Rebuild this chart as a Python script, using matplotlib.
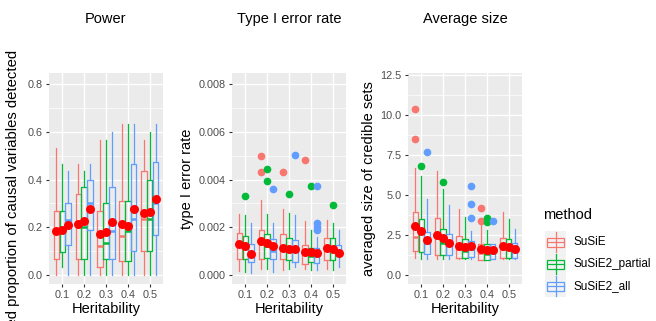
import matplotlib
matplotlib.use("Agg")
import matplotlib.pyplot as plt
from matplotlib.patches import Rectangle

plt.rcParams['font.family'] = ['Liberation Sans', 'DejaVu Sans']

heritability = ["0.1", "0.2", "0.3", "0.4", "0.5"]
methods = ["SuSiE", "SuSiE2_partial", "SuSiE2_all"]
colors = ["#F8766D", "#00BA38", "#619CFF"]

# ---------- Power ----------
pow_whislo = {"SuSiE": [0.0, 0.0, 0.0, 0.0, 0.0],
              "SuSiE2_partial": [0.035, 0.0, 0.0, 0.0, 0.0],
              "SuSiE2_all": [0.0, 0.0, 0.0, 0.0, 0.0]}
pow_q1 = {"SuSiE": [0.067, 0.067, 0.035, 0.058, 0.10],
          "SuSiE2_partial": [0.095, 0.067, 0.067, 0.058, 0.10],
          "SuSiE2_all": [0.125, 0.19, 0.067, 0.10, 0.167]}
pow_med = {"SuSiE": [0.18, 0.20, 0.12, 0.165, 0.235],
           "SuSiE2_partial": [0.19, 0.20, 0.135, 0.185, 0.235],
           "SuSiE2_all": [0.23, 0.30, 0.185, 0.235, 0.30]}
pow_q3 = {"SuSiE": [0.268, 0.341, 0.268, 0.31, 0.435],
          "SuSiE2_partial": [0.268, 0.37, 0.30, 0.31, 0.40],
          "SuSiE2_all": [0.302, 0.40, 0.37, 0.467, 0.474]}
pow_whishi = {"SuSiE": [0.534, 0.467, 0.565, 0.634, 0.565],
              "SuSiE2_partial": [0.467, 0.435, 0.567, 0.634, 0.60],
              "SuSiE2_all": [0.435, 0.467, 0.60, 0.634, 0.634]}
pow_mean = {"SuSiE": [0.184, 0.213, 0.173, 0.215, 0.26],
            "SuSiE2_partial": [0.19, 0.226, 0.18, 0.207, 0.265],
            "SuSiE2_all": [0.21, 0.278, 0.22, 0.276, 0.318]}
pow_out = {"SuSiE": [[], [], [], [], []],
           "SuSiE2_partial": [[], [], [], [], []],
           "SuSiE2_all": [[], [], [], [], []]}

# ---------- Type I error ----------
err_whislo = {"SuSiE": [0.00018, 0.00025, 0.00022, 0.00025, 0.00025],
              "SuSiE2_partial": [0.00014, 0.00025, 0.00025, 0.00022, 0.0002],
              "SuSiE2_all": [0.00007, 0.00012, 0.00035, 0.0002, 0.00035]}
err_q1 = {"SuSiE": [0.00067, 0.00066, 0.00067, 0.00046, 0.00065],
          "SuSiE2_partial": [0.00068, 0.0007, 0.00063, 0.00053, 0.00063],
          "SuSiE2_all": [0.00056, 0.00066, 0.00056, 0.00049, 0.0008]}
err_med = {"SuSiE": [0.0012, 0.0013, 0.0011, 0.0009, 0.0011],
           "SuSiE2_partial": [0.0012, 0.0012, 0.001, 0.0008, 0.001],
           "SuSiE2_all": [0.0009, 0.001, 0.001, 0.0008, 0.0009]}
err_q3 = {"SuSiE": [0.00174, 0.00188, 0.0017, 0.00126, 0.00155],
          "SuSiE2_partial": [0.00165, 0.0017, 0.00154, 0.00112, 0.00154],
          "SuSiE2_all": [0.0013, 0.0015, 0.00147, 0.00112, 0.00125]}
err_whishi = {"SuSiE": [0.00255, 0.00314, 0.00276, 0.00227, 0.00232],
              "SuSiE2_partial": [0.0025, 0.00255, 0.0026, 0.00188, 0.0022],
              "SuSiE2_all": [0.00216, 0.00216, 0.0025, 0.0016, 0.0019]}
err_mean = {"SuSiE": [0.00128, 0.00142, 0.00114, 0.00098, 0.00114],
            "SuSiE2_partial": [0.00122, 0.00135, 0.00111, 0.00095, 0.00108],
            "SuSiE2_all": [0.00088, 0.00122, 0.0011, 0.00093, 0.00093]}
err_out = {"SuSiE": [[], [0.00497, 0.00433], [0.00433], [0.00483], []],
           "SuSiE2_partial": [[0.00332], [0.00442, 0.00394], [0.00338], [0.00374], [0.00292]],
           "SuSiE2_all": [[], [0.00359], [0.00502], [0.00374, 0.00216, 0.00202, 0.0019], []]}

# ---------- Average size ----------
size_whislo = {"SuSiE": [1.08, 1.0, 1.0, 0.94, 1.0],
               "SuSiE2_partial": [1.0, 1.0, 1.0, 0.94, 1.0],
               "SuSiE2_all": [1.0, 1.0, 1.0, 1.0, 1.0]}
size_q1 = {"SuSiE": [1.5, 1.25, 1.04, 0.94, 1.08],
           "SuSiE2_partial": [1.46, 1.25, 1.04, 0.94, 1.04],
           "SuSiE2_all": [1.29, 1.25, 1.15, 1.0, 1.08]}
size_med = {"SuSiE": [2.4, 2.3, 1.6, 1.4, 1.6],
            "SuSiE2_partial": [2.6, 2.0, 1.5, 1.3, 1.6],
            "SuSiE2_all": [1.98, 1.9, 1.65, 1.4, 1.5]}
size_q3 = {"SuSiE": [3.92, 3.58, 2.44, 1.92, 2.33],
           "SuSiE2_partial": [3.5, 2.87, 2.23, 1.92, 2.23],
           "SuSiE2_all": [2.67, 2.56, 2.12, 1.92, 2.02]}
size_whishi = {"SuSiE": [6.67, 6.48, 4.1, 3.44, 3.96],
               "SuSiE2_partial": [6.2, 5.35, 3.6, 2.8, 3.5],
               "SuSiE2_all": [4.73, 4.38, 2.77, 1.92, 2.88]}
size_mean = {"SuSiE": [3.08, 2.5, 1.81, 1.63, 1.83],
             "SuSiE2_partial": [2.75, 2.33, 1.77, 1.58, 1.75],
             "SuSiE2_all": [2.19, 2.02, 1.81, 1.56, 1.62]}
size_out = {"SuSiE": [[10.4, 8.48], [], [], [4.2, 3.38], []],
            "SuSiE2_partial": [[6.83], [5.83], [], [3.54, 3.3], []],
            "SuSiE2_all": [[7.67], [], [5.56, 4.44, 3.54], [3.38], []]}

W, H = 656, 321
fig = plt.figure(figsize=(W / 100, H / 100), dpi=100)

BG = "#EBEBEB"
TICKC = "#4D4D4D"
offsets = [-0.27, 0.0, 0.27]
bw = 0.24


def px_axes(x0, x1, y0, y1):
    return fig.add_axes([x0 / W, 1 - y1 / H, (x1 - x0) / W, (y1 - y0) / H])


def panel(ax, whislo, q1, med, q3, whishi, mean, outl, ylim, major, minor, fmt):
    ax.set_facecolor(BG)
    for s in ax.spines.values():
        s.set_visible(False)
    ax.set_xlim(0.4, 5.6)
    ax.set_ylim(*ylim)
    ax.set_yticks(major)
    ax.set_yticks(minor, minor=True)
    ax.set_yticklabels([fmt.format(v) for v in major])
    ax.set_xticks(range(1, 6))
    ax.set_xticklabels(heritability)
    ax.grid(True, which="major", color="white", lw=1.0)
    ax.grid(True, which="minor", axis="y", color="white", lw=0.5)
    ax.set_axisbelow(True)
    ax.tick_params(axis="both", which="major", length=2.5, width=0.8, color="#333333",
                   labelsize=7.8, labelcolor=TICKC, pad=2)
    ax.tick_params(axis="y", which="minor", length=0)
    for m, meth in enumerate(methods):
        c = colors[m]
        stats = []
        pos = []
        for i in range(5):
            stats.append(dict(whislo=whislo[meth][i], q1=q1[meth][i], med=med[meth][i],
                              q3=q3[meth][i], whishi=whishi[meth][i], fliers=outl[meth][i]))
            pos.append(i + 1 + offsets[m])
        ax.bxp(stats, positions=pos, widths=bw, showcaps=False, patch_artist=False,
               boxprops=dict(color=c, lw=0.9),
               whiskerprops=dict(color=c, lw=0.9),
               medianprops=dict(color=c, lw=1.8),
               flierprops=dict(marker="o", markerfacecolor=c, markeredgecolor=c,
                               markersize=4.5, linestyle="none"),
               manage_ticks=False)
    for m, meth in enumerate(methods):
        xs = [i + 1 + offsets[m] for i in range(5)]
        ax.scatter(xs, mean[meth], s=42, color="#FF0000", zorder=5, linewidths=0)


ax1 = px_axes(49, 163, 73, 284)
panel(ax1, pow_whislo, pow_q1, pow_med, pow_q3, pow_whishi, pow_mean, pow_out,
      (-0.038, 0.847), [0.0, 0.2, 0.4, 0.6, 0.8], [0.1, 0.3, 0.5, 0.7], "{:.1f}")
ax2 = px_axes(232, 346, 73, 284)
panel(ax2, err_whislo, err_q1, err_med, err_q3, err_whishi, err_mean, err_out,
      (-0.000375, 0.00846), [0.0, 0.002, 0.004, 0.006, 0.008], [0.001, 0.003, 0.005, 0.007], "{:.3f}")
ax3 = px_axes(408, 522, 73, 284)
panel(ax3, size_whislo, size_q1, size_med, size_q3, size_whishi, size_mean, size_out,
      (-0.5625, 12.625), [0.0, 2.5, 5.0, 7.5, 10.0, 12.5], [1.25, 3.75, 6.25, 8.75, 11.25], "{:.1f}")

for ax in (ax1, ax2, ax3):
    ax.set_xlabel("Heritability", fontsize=10.5, labelpad=1)

ax2.set_ylabel("type I error rate", fontsize=10.5, labelpad=3)
ax3.set_ylabel("averaged size of credible sets", fontsize=10.5, labelpad=3)

fig.text(13 / W, 1 - 50 / H, "averaged proportion of causal variables detected",
         rotation=90, ha="center", va="top", fontsize=10.7)

fig.text(106 / W, 1 - 19 / H, "Power", ha="center", va="center", fontsize=10.5)
fig.text(289 / W, 1 - 19 / H, "Type I error rate", ha="center", va="center", fontsize=10.5)
fig.text(465 / W, 1 - 19 / H, "Average size", ha="center", va="center", fontsize=10.5)

# legend
lg = fig.add_axes([0, 0, 1, 1], facecolor="none")
lg.set_xlim(0, W)
lg.set_ylim(H, 0)
lg.axis("off")
lg.text(543, 215, "method", fontsize=10.5, va="center", ha="left")
key_centers = [242, 264, 286]
for m, meth in enumerate(methods):
    cy = key_centers[m]
    lg.add_patch(Rectangle((545, cy - 11), 21, 22, facecolor="#F2F2F2", edgecolor="none"))
    lg.plot([555.5, 555.5], [cy - 10, cy + 10], color=colors[m], lw=0.9)
    lg.add_patch(Rectangle((547, cy - 4.5), 17, 9, facecolor="#F2F2F2", edgecolor=colors[m], lw=0.9))
    lg.plot([547, 564], [cy, cy], color=colors[m], lw=0.9)
    lg.text(574, cy, meth, fontsize=8.5, va="center", ha="left")

fig.savefig("out.png", dpi=100)
